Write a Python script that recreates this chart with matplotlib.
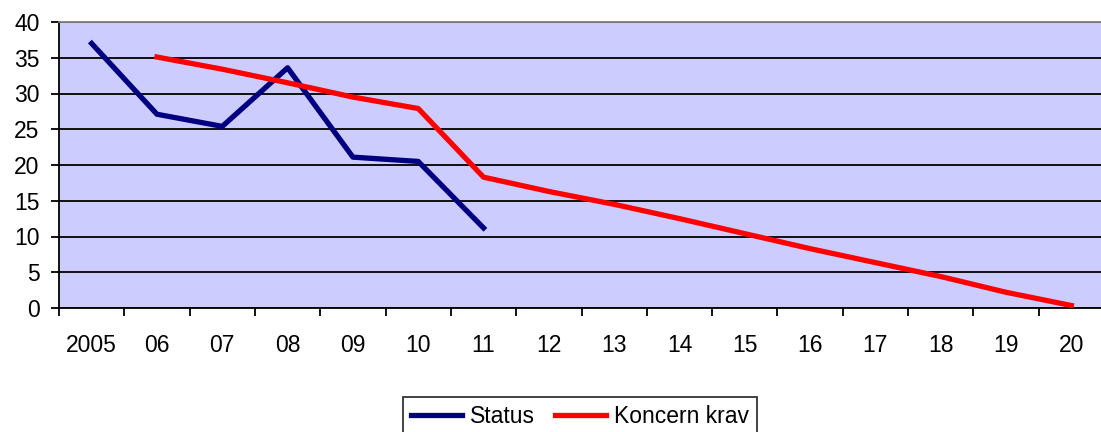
import numpy as np
import matplotlib.pyplot as plt

plt.rcParams['font.family'] = ['Liberation Sans', 'DejaVu Sans']

# data
labels = ['2005', '06', '07', '08', '09', '10', '11', '12', '13', '14',
          '15', '16', '17', '18', '19', '20']
status = [37.0, 27.1, 25.4, 33.6, 21.1, 20.5, 11.2]
koncern = [np.nan, 35.1, 33.4, 31.5, 29.5, 27.9, 18.3, 16.3, 14.5, 12.5,
           10.4, 8.3, 6.35, 4.4, 2.2, 0.35]

fig = plt.figure(figsize=(11.01, 4.32), dpi=100)
ax = fig.add_axes([59 / 1101, 1 - 308 / 432, 1045 / 1101, 286 / 432])
ax.set_facecolor('#CCCCFF')

x = np.arange(len(labels))
ax.plot(x[:len(status)], status, color='#000080', lw=3.8, label='Status',
        zorder=3)
ax.plot(x, koncern, color='#FF0000', lw=3.8, label='Koncern krav', zorder=3)

ax.set_xlim(-0.5, len(labels) - 0.5)
ax.set_ylim(0, 40)
ax.set_yticks(range(0, 41, 5))
ax.yaxis.grid(True, color='black', lw=1.3)
ax.set_axisbelow(True)

# category labels centred, tick marks between categories
ax.set_xticks(x)
ax.set_xticklabels(labels)
ax.set_xticks(np.arange(-0.5, len(labels), 1), minor=True)
ax.tick_params(axis='x', which='major', length=0, pad=19, labelsize=16.5)
ax.tick_params(axis='x', which='minor', length=6, width=1.3, color='black')
ax.tick_params(axis='y', length=6, width=1.3, labelsize=16.5, pad=8)

for s in ['left', 'bottom']:
    ax.spines[s].set_color('black')
    ax.spines[s].set_linewidth(1.3)
ax.spines['top'].set_color('#808080')
ax.spines['top'].set_linewidth(1.3)
ax.spines['right'].set_visible(False)

leg = fig.legend(loc='upper center', bbox_to_anchor=(580 / 1101, 1 - 397 / 432),
                 ncol=2, fontsize=16.5, frameon=True, fancybox=False,
                 edgecolor='black', handlelength=2.2, handletextpad=0.35,
                 columnspacing=0.9, borderpad=0.35, borderaxespad=0)
leg.get_frame().set_linewidth(1.3)

fig.savefig('out.png', dpi=100, facecolor='white')
